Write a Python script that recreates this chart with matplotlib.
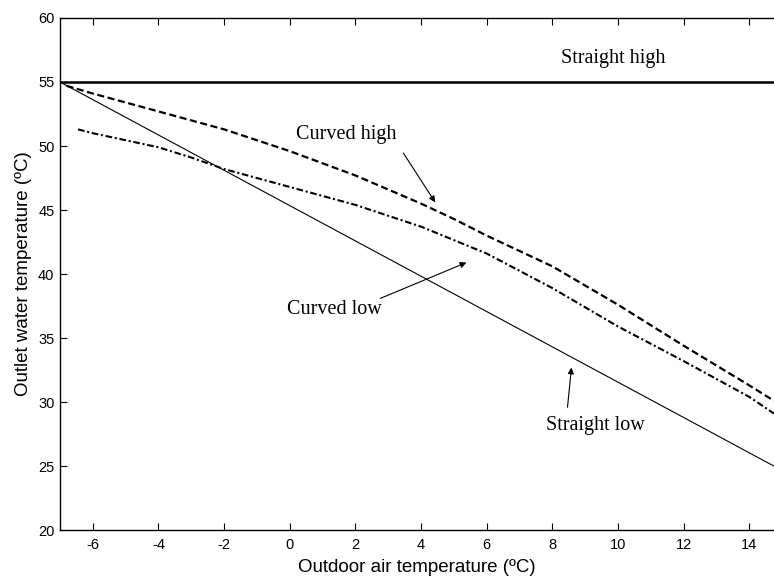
import matplotlib
matplotlib.use("Agg")
import matplotlib.pyplot as plt

# outdoor air temperature (x) and outlet water temperature (y) for the four curves
straight_high_x = [-7.0, 14.75]
straight_high_y = [55.0, 55.0]

straight_low_x = [-7.0, 14.75]
straight_low_y = [55.0, 25.0]

curved_high_x = [-6.8, -6.0, -4.0, -2.0, 0.0, 2.0, 4.0, 5.0, 6.0, 8.0, 10.0, 12.0, 14.0, 14.75]
curved_high_y = [54.7, 54.1, 52.7, 51.3, 49.6, 47.7, 45.5, 44.3, 43.0, 40.6, 37.6, 34.4, 31.3, 30.1]

curved_low_x = [-6.45, -6.0, -4.0, -3.0, -2.0, 0.0, 2.0, 4.0, 6.0, 8.0, 10.0, 12.0, 14.0, 14.75]
curved_low_y = [51.3, 51.0, 49.9, 49.1, 48.2, 46.8, 45.4, 43.7, 41.6, 38.9, 35.9, 33.2, 30.4, 29.1]

x_ticks = [-6, -4, -2, 0, 2, 4, 6, 8, 10, 12, 14]
y_ticks = [20, 25, 30, 35, 40, 45, 50, 55, 60]

# annotation text positions, arrow tails and arrow heads
labels = ['Straight high', 'Curved high', 'Curved low', 'Straight low']
label_x = [9.86, 1.72, 1.35, 9.31]
label_y = [56.8, 50.9, 37.2, 28.2]
arrow_tail_x = [None, 3.46, 2.76, 8.46]
arrow_tail_y = [None, 49.45, 38.1, 29.6]
arrow_head_x = [None, 4.43, 5.38, 8.58]
arrow_head_y = [None, 45.6, 40.9, 32.7]

plt.rcParams['font.family'] = ['Liberation Sans', 'DejaVu Sans']
plt.rcParams['axes.unicode_minus'] = False

fig = plt.figure(figsize=(7.74, 5.8), dpi=100)
ax = fig.add_axes([0.0775, 0.086, 0.9225, 0.883])

ax.plot(straight_high_x, straight_high_y, color='black', lw=1.8, solid_capstyle='butt')
ax.plot(straight_low_x, straight_low_y, color='black', lw=0.8)
ax.plot(curved_high_x, curved_high_y, color='black', lw=1.6, dashes=(3.2, 1.6))
ax.plot(curved_low_x, curved_low_y, color='black', lw=1.5, dashes=(3.2, 1.3, 1.0, 1.3))

ax.set_xlim(-7.0, 14.75)
ax.set_ylim(20, 60)
ax.set_xticks(x_ticks)
ax.set_yticks(y_ticks)
ax.tick_params(axis='x', direction='in', length=5, width=0.8, top=True, labelsize=10.5, pad=6)
ax.tick_params(axis='y', direction='in', length=5, width=0.8, right=False, labelsize=10.5, pad=4)
ax.spines['right'].set_visible(False)
for s in ['left', 'bottom', 'top']:
    ax.spines[s].set_linewidth(1.0)

ax.set_xlabel('Outdoor air temperature (ºC)', fontsize=13.5, labelpad=5)
ax.set_ylabel('Outlet water temperature (ºC)', fontsize=13.5, labelpad=4)

serif = ['Liberation Serif', 'DejaVu Serif']
for i, lab in enumerate(labels):
    ax.text(label_x[i], label_y[i], lab, family=serif, fontsize=14.5, ha='center', va='center')
    if arrow_tail_x[i] is not None:
        ax.annotate('', xy=(arrow_head_x[i], arrow_head_y[i]),
                    xytext=(arrow_tail_x[i], arrow_tail_y[i]),
                    arrowprops=dict(arrowstyle='-|>', color='black', lw=0.8,
                                    mutation_scale=9, shrinkA=0, shrinkB=0))

fig.savefig('out.png', dpi=100)
